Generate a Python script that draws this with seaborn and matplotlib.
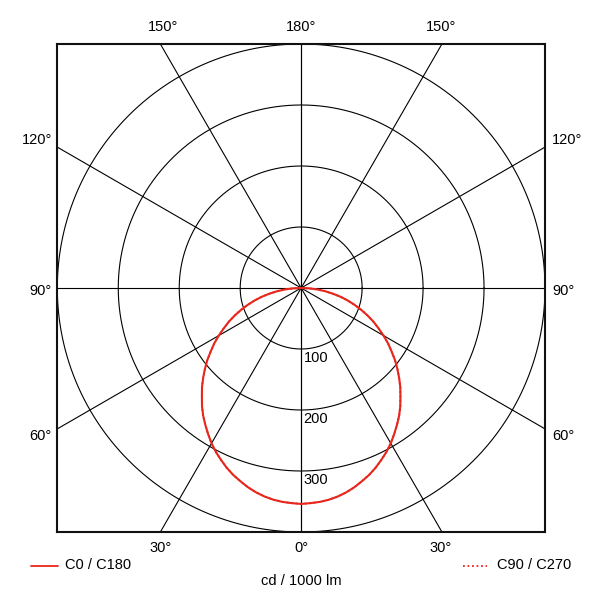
import numpy as np
import pandas as pd
import matplotlib
matplotlib.use("Agg")
import matplotlib.pyplot as plt
import seaborn as sns

sns.set_style("white")
plt.rcParams['font.family'] = ['Liberation Sans', 'DejaVu Sans']

# Data: luminous intensity (cd / 1000 lm) at gamma angles 0..90 deg (symmetric)
gamma_deg = [0, 2.5, 5, 7.5, 10, 12.5, 15, 17.5, 20, 22.5, 25, 27.5, 30, 32.5, 35, 37.5,
             40, 42.5, 45, 47.5, 50, 52.5, 55, 57.5, 60, 62.5, 65, 67.5, 70, 72.5, 75,
             77.5, 80, 82.5, 85, 87.5, 90]
c0_c180 = [354, 353, 352, 350, 347, 343, 338, 332, 326, 319, 311, 303, 294, 284, 274, 264,
           253, 241, 230, 218, 206, 194, 181, 169, 156, 143, 131, 118, 105, 92, 79,
           66, 52, 39, 26, 13, 0]
c90_c270 = [354, 353, 352, 350, 347, 343, 338, 332, 326, 319, 311, 303, 294, 284, 274, 264,
            253, 241, 230, 218, 206, 194, 181, 169, 156, 143, 131, 118, 105, 92, 79,
            66, 52, 39, 26, 13, 0]
ring_values = [100, 200, 300, 400]
ring_labels = ["100", "200", "300"]
spoke_angles = [0, 30, 60, 90, 120, 150, 180]
legend_labels = ["C0 / C180", "C90 / C270"]
unit_label = "cd / 1000 lm"

RED = "#e8261c"
RMAX = 400

fig = plt.figure(figsize=(6, 6), dpi=100)
ax = fig.add_axes([57.3 / 600, 1 - 532 / 600, 487.7 / 600, 488 / 600])
ax.set_xlim(-RMAX, RMAX)
ax.set_ylim(-RMAX, RMAX)
ax.set_xticks([])
ax.set_yticks([])
for s in ax.spines.values():
    s.set_color("#111111")
    s.set_linewidth(1.5)

# rings
t = np.linspace(0, 2 * np.pi, 721)
for rv in ring_values:
    ax.plot(rv * np.cos(t), rv * np.sin(t), color="black", lw=0.8, zorder=1)

# spokes (extend to frame)
L = RMAX * 2
for a in spoke_angles:
    ar = np.deg2rad(a)
    for sgn in (-1, 1):
        ax.plot([0, sgn * L * np.sin(ar)], [0, -L * np.cos(ar)], color="black", lw=0.8, zorder=1)

# curves
def curve_df(values):
    ang = [-g for g in gamma_deg[::-1]] + gamma_deg[1:]
    val = values[::-1] + values[1:]
    ang = np.deg2rad(np.array(ang, dtype=float))
    val = np.array(val, dtype=float)
    return pd.DataFrame({"x": val * np.sin(ang), "y": -val * np.cos(ang)})

d1 = curve_df(c0_c180)
d2 = curve_df(c90_c270)
sns.lineplot(data=d1, x="x", y="y", sort=False, estimator=None, ax=ax,
             color=RED, lw=1.5, zorder=3)
sns.lineplot(data=d2, x="x", y="y", sort=False, estimator=None, ax=ax,
             color=RED, lw=1.3, ls=(0, (1, 1.5)), zorder=4)
ax.set_xlim(-RMAX, RMAX)
ax.set_ylim(-RMAX, RMAX)
ax.set_xlabel("")
ax.set_ylabel("")

# ring labels
for rv, lab in zip(ring_values, ring_labels):
    ax.text(4, -rv - 4, lab, ha="left", va="top", fontsize=10.5, color="black", zorder=5)

fs = 10.5
def ftext(x, y, s, ha="center", va="center"):
    fig.text(x / 600, 1 - y / 600, s, ha=ha, va=va, fontsize=fs, color="black")

# angle labels
ftext(163, 27, "150°")
ftext(301, 27, "180°")
ftext(441, 27, "150°")
ftext(52, 140, "120°", ha="right")
ftext(552, 140, "120°", ha="left")
ftext(52, 291, "90°", ha="right")
ftext(552, 291, "90°", ha="left")
ftext(52, 436, "60°", ha="right")
ftext(552, 436, "60°", ha="left")
ftext(161, 548, "30°")
ftext(301, 548, "0°")
ftext(441, 548, "30°")

# legend
fig.add_artist(plt.Line2D([31 / 600, 58 / 600], [1 - 565.5 / 600] * 2, color=RED, lw=1.3))
ftext(65, 565, legend_labels[0], ha="left")
fig.add_artist(plt.Line2D([463 / 600, 487 / 600], [1 - 565.5 / 600] * 2, color=RED, lw=1.3,
                          ls=(0, (1, 1.5))))
ftext(497, 565, legend_labels[1], ha="left")
ftext(301, 581, unit_label)

fig.savefig("out.png", dpi=100)
